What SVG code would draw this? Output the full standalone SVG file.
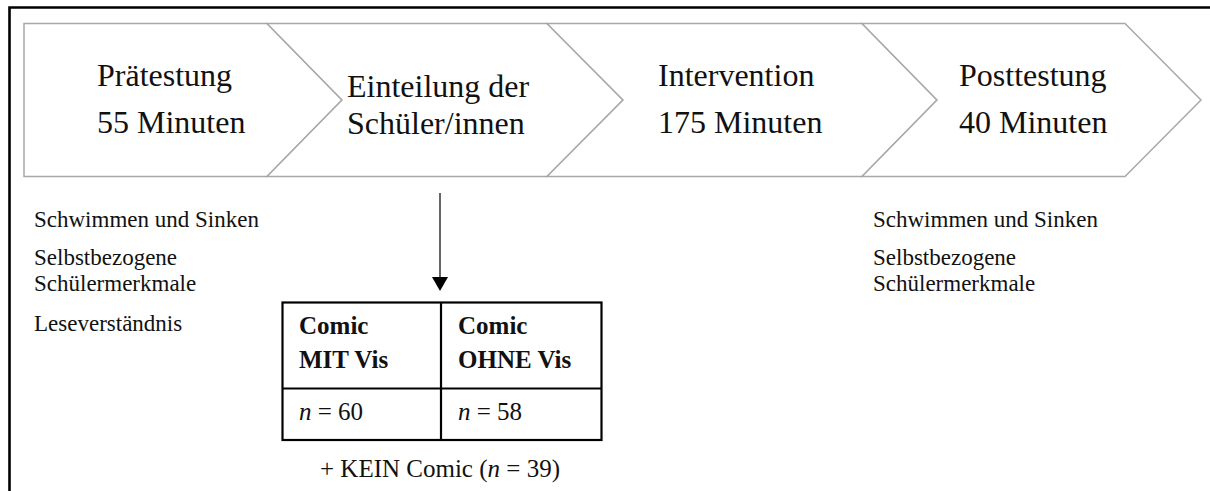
<svg xmlns="http://www.w3.org/2000/svg" width="1210" height="491" viewBox="0 0 1210 491">
  <style>
    .chev { fill: #ffffff; stroke: #a8a8a8; stroke-width: 1.5; stroke-linejoin: miter; }
    .head { font-family: "Liberation Serif", "DejaVu Serif", serif; font-size: 32px; fill: #111111; }
    .body { font-family: "Liberation Serif", "DejaVu Serif", serif; font-size: 25px; fill: #111111; }
    .meas { font-family: "Liberation Serif", "DejaVu Serif", serif; font-size: 23px; fill: #111111; }
    .bold { font-weight: bold; }
    .cell { fill: none; stroke: #000000; stroke-width: 2.2; }
    .frame { stroke: #000000; stroke-width: 2.6; fill: none; }
  </style>
  <rect x="0" y="0" width="1210" height="491" fill="#ffffff"/>

  <!-- outer frame (top and left edge only visible) -->
  <path class="frame" d="M9.5,491 L9.5,7.5 L1210,7.5"/>

  <g id="step-praetestung">
    <polygon class="chev" points="24,23.5 267,23.5 342,100 267,176.5 24,176.5"/>
    <text class="head" x="97" y="86">Prätestung</text>
    <text class="head" x="97" y="133">55 Minuten</text>
  </g>

  <g id="step-einteilung">
    <polygon class="chev" points="267,23.5 547,23.5 623,100 547,176.5 267,176.5 342,100"/>
    <text class="head" x="347" y="97">Einteilung der</text>
    <text class="head" x="347" y="134">Schüler/innen</text>
  </g>

  <g id="step-intervention">
    <polygon class="chev" points="547,23.5 862,23.5 937,100 862,176.5 547,176.5 623,100"/>
    <text class="head" x="658" y="86">Intervention</text>
    <text class="head" x="658" y="133">175 Minuten</text>
  </g>

  <g id="step-posttestung">
    <polygon class="chev" points="862,23.5 1125,23.5 1201,100 1125,176.5 862,176.5 937,100"/>
    <text class="head" x="959" y="86">Posttestung</text>
    <text class="head" x="959" y="133">40 Minuten</text>
  </g>

  <g id="pre-measures">
    <text class="meas" x="34" y="227">Schwimmen und Sinken</text>
    <text class="meas" x="34" y="265">Selbstbezogene</text>
    <text class="meas" x="34" y="291">Schülermerkmale</text>
    <text class="meas" x="34" y="331">Leseverständnis</text>
  </g>

  <g id="post-measures">
    <text class="meas" x="873" y="227">Schwimmen und Sinken</text>
    <text class="meas" x="873" y="265">Selbstbezogene</text>
    <text class="meas" x="873" y="291">Schülermerkmale</text>
  </g>

  <g id="groups-table">
    <rect class="cell" x="282.5" y="302.5" width="319" height="137.5"/>
    <line class="cell" x1="441" y1="302.5" x2="441" y2="440"/>
    <line class="cell" x1="282.5" y1="388.5" x2="601.5" y2="388.5"/>
    <text class="body bold" x="299" y="334">Comic</text>
    <text class="body bold" x="299" y="368">MIT Vis</text>
    <text class="body bold" x="458" y="334">Comic</text>
    <text class="body bold" x="458" y="368">OHNE Vis</text>
    <text class="body" x="299" y="420"><tspan font-style="italic">n</tspan> = 60</text>
    <text class="body" x="458" y="420"><tspan font-style="italic">n</tspan> = 58</text>
  </g>

  <g id="no-comic-note">
    <text class="body" x="440" y="477" text-anchor="middle">+ KEIN Comic (<tspan font-style="italic">n</tspan> = 39)</text>
  </g>

  <g id="connectors">
    <line x1="440" y1="193" x2="440" y2="278" stroke="#404040" stroke-width="1.6"/>
    <polygon points="432,277 448,277 440,291" fill="#000000"/>
  </g>
</svg>
